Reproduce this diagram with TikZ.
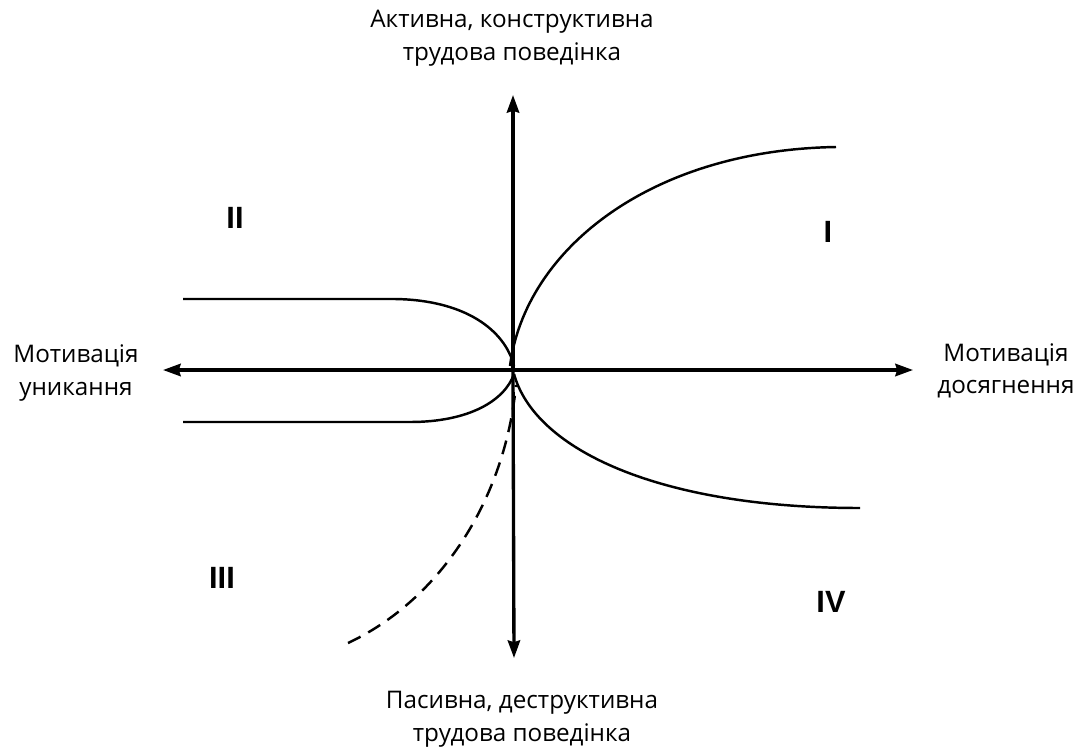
\documentclass[tikz,border=0pt]{standalone}
\usepackage{fontspec}
\setmainfont{Open Sans}
\newfontfamily\numfont{Liberation Sans}
\usepackage{tikz}
\usetikzlibrary{arrows.meta}

\begin{document}
\begin{tikzpicture}[
  x=0.02cm, y=-0.02cm,
  axis/.style={line width=1.9pt, -{Stealth[length=10pt, width=7pt, inset=1pt]}},
  curve/.style={line width=1.4pt},
  label/.style={align=center, inner sep=0pt, font=\fontsize{13.8}{18.5}\selectfont},
  quad/.style={inner sep=0pt, font=\numfont\bfseries\fontsize{17.5}{20}\selectfont},
]
\useasboundingbox (0,0) rectangle (1086,748);

% axes
\coordinate (origin) at (513,370);
\coordinate (top)    at (513,95);
\coordinate (bottom) at (514,658);
\coordinate (left)   at (163,370);
\coordinate (right)  at (913,370);

\draw[axis] (origin) -- (top);
\draw[axis] (origin) -- (bottom);
\draw[axis] (origin) -- (left);
\draw[axis] (origin) -- (right);

% axis labels
\node[label] at (512,38)  (active)    {Активна, конструктивна\\трудова поведінка};
\node[label] at (522,719) (passive)   {Пасивна, деструктивна\\трудова поведінка};
\node[label] at (76,373)  (avoid)     {Мотивація\\уникання};
\node[label] at (1006,371) (achieve)  {Мотивація\\досягнення};

% quadrants
\node[quad] at (235,218) (q1) {II};
\node[quad] at (828,232) (q2) {I};
\node[quad] at (222,578) (q3) {III};
\node[quad] at (831,602) (q4) {IV};

% curves
\draw[curve] (510,366) .. controls (525,250) and (650,150) .. (836,147);
\draw[curve] (514,374) .. controls (535,450) and (660,508) .. (860,508);
\draw[curve] (183,299) -- (395,299) .. controls (465,300) and (505,330) .. (514,366);
\draw[curve] (183,422) -- (410,422) .. controls (470,422) and (505,400) .. (514,374);
\draw[curve, dash pattern=on 8pt off 5pt] (348,643) .. controls (440,600) and (505,500) .. (516,385);
\end{tikzpicture}
\end{document}
